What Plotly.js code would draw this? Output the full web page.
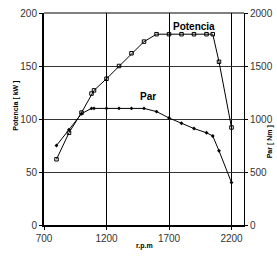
<!DOCTYPE html>
<html><head><meta charset="utf-8">
<script src="https://cdn.plot.ly/plotly-3.0.1.min.js"></script>
<style>html,body{margin:0;padding:0;background:#fff}#c{width:277px;height:256px}</style>
</head><body><div id="c"></div>
<script>
const rpm = [800, 900, 1000, 1080, 1100, 1200, 1300, 1400, 1500, 1600, 1700, 1800, 1900, 2000, 2050, 2100, 2200];
const potencia = [62, 87, 106, 124, 127, 138, 150, 162, 173, 180, 180, 180, 180, 180, 180, 154, 92];
const par = [750, 900, 1050, 1100, 1100, 1100, 1100, 1100, 1100, 1070, 1010, 960, 910, 870, 840, 700, 400];
const xTicks = [700, 1200, 1700, 2200];
const yTicks = [0, 50, 100, 150, 200];
const y2Ticks = [0, 500, 1000, 1500, 2000];

const F = "Liberation Sans, Arial, sans-serif";
const data = [
  {x: rpm, y: potencia, type: 'scatter', mode: 'lines+markers', yaxis: 'y',
   line: {color: '#000', width: 1}, marker: {symbol: 'square-open', size: 3.5, color: '#000', line: {width: 1}}},
  {x: rpm, y: par, type: 'scatter', mode: 'lines+markers', yaxis: 'y2',
   line: {color: '#000', width: 1}, marker: {symbol: 'diamond', size: 3, color: '#000'}}
];
const layout = {
  width: 277, height: 256, showlegend: false,
  margin: {l: 44, r: 33, t: 13, b: 31},
  paper_bgcolor: '#fff', plot_bgcolor: '#fff',
  font: {family: F, size: 10, color: '#222'},
  xaxis: {range: [700, 2300], tickvals: xTicks, showgrid: true, gridcolor: '#000', gridwidth: 1,
    showline: true, linecolor: '#000', linewidth: 2, ticks: 'outside', ticklen: 3, tickcolor: '#000',
    zeroline: false, tickfont: {size: 10, color: '#333'}},
  yaxis: {range: [0, 200], tickvals: yTicks, showgrid: true, gridcolor: '#333', gridwidth: 1,
    showline: true, linecolor: '#000', linewidth: 2, ticks: 'outside', ticklen: 3, tickcolor: '#000',
    zeroline: false, tickfont: {size: 10, color: '#333'}},
  yaxis2: {range: [0, 2000], tickvals: y2Ticks, overlaying: 'y', side: 'right', showgrid: false,
    showline: true, linecolor: '#000', linewidth: 1, ticks: 'outside', ticklen: 3, tickcolor: '#000',
    zeroline: false, tickfont: {size: 10, color: '#333'}},
  shapes: [{type: 'line', xref: 'paper', yref: 'paper', x0: 0, x1: 1, y0: 1, y1: 1, line: {color: '#000', width: 1}}],
  annotations: [
    {text: '<b>Potencia</b>', x: 1900, y: 187, xref: 'x', yref: 'y', showarrow: false, font: {size: 10, color: '#000'}},
    {text: '<b>Par</b>', x: 1530, y: 121, xref: 'x', yref: 'y', showarrow: false, font: {size: 10, color: '#000'}},
    {text: '<b>Potencia [ kW ]</b>', x: -0.17, y: 0.69, xref: 'paper', yref: 'paper', textangle: -90, showarrow: false, font: {size: 7, color: '#000'}},
    {text: '<b>Par [ Nm ]</b>', x: 1.16, y: 0.39, xref: 'paper', yref: 'paper', textangle: -90, showarrow: false, font: {size: 7, color: '#000'}},
    {text: '<b>r.p.m</b>', x: 0.5, y: -0.127, xref: 'paper', yref: 'paper', showarrow: false, font: {size: 7, color: '#000'}}
  ]
};
Plotly.newPlot('c', data, layout, {staticPlot: true, displayModeBar: false});
</script></body></html>
